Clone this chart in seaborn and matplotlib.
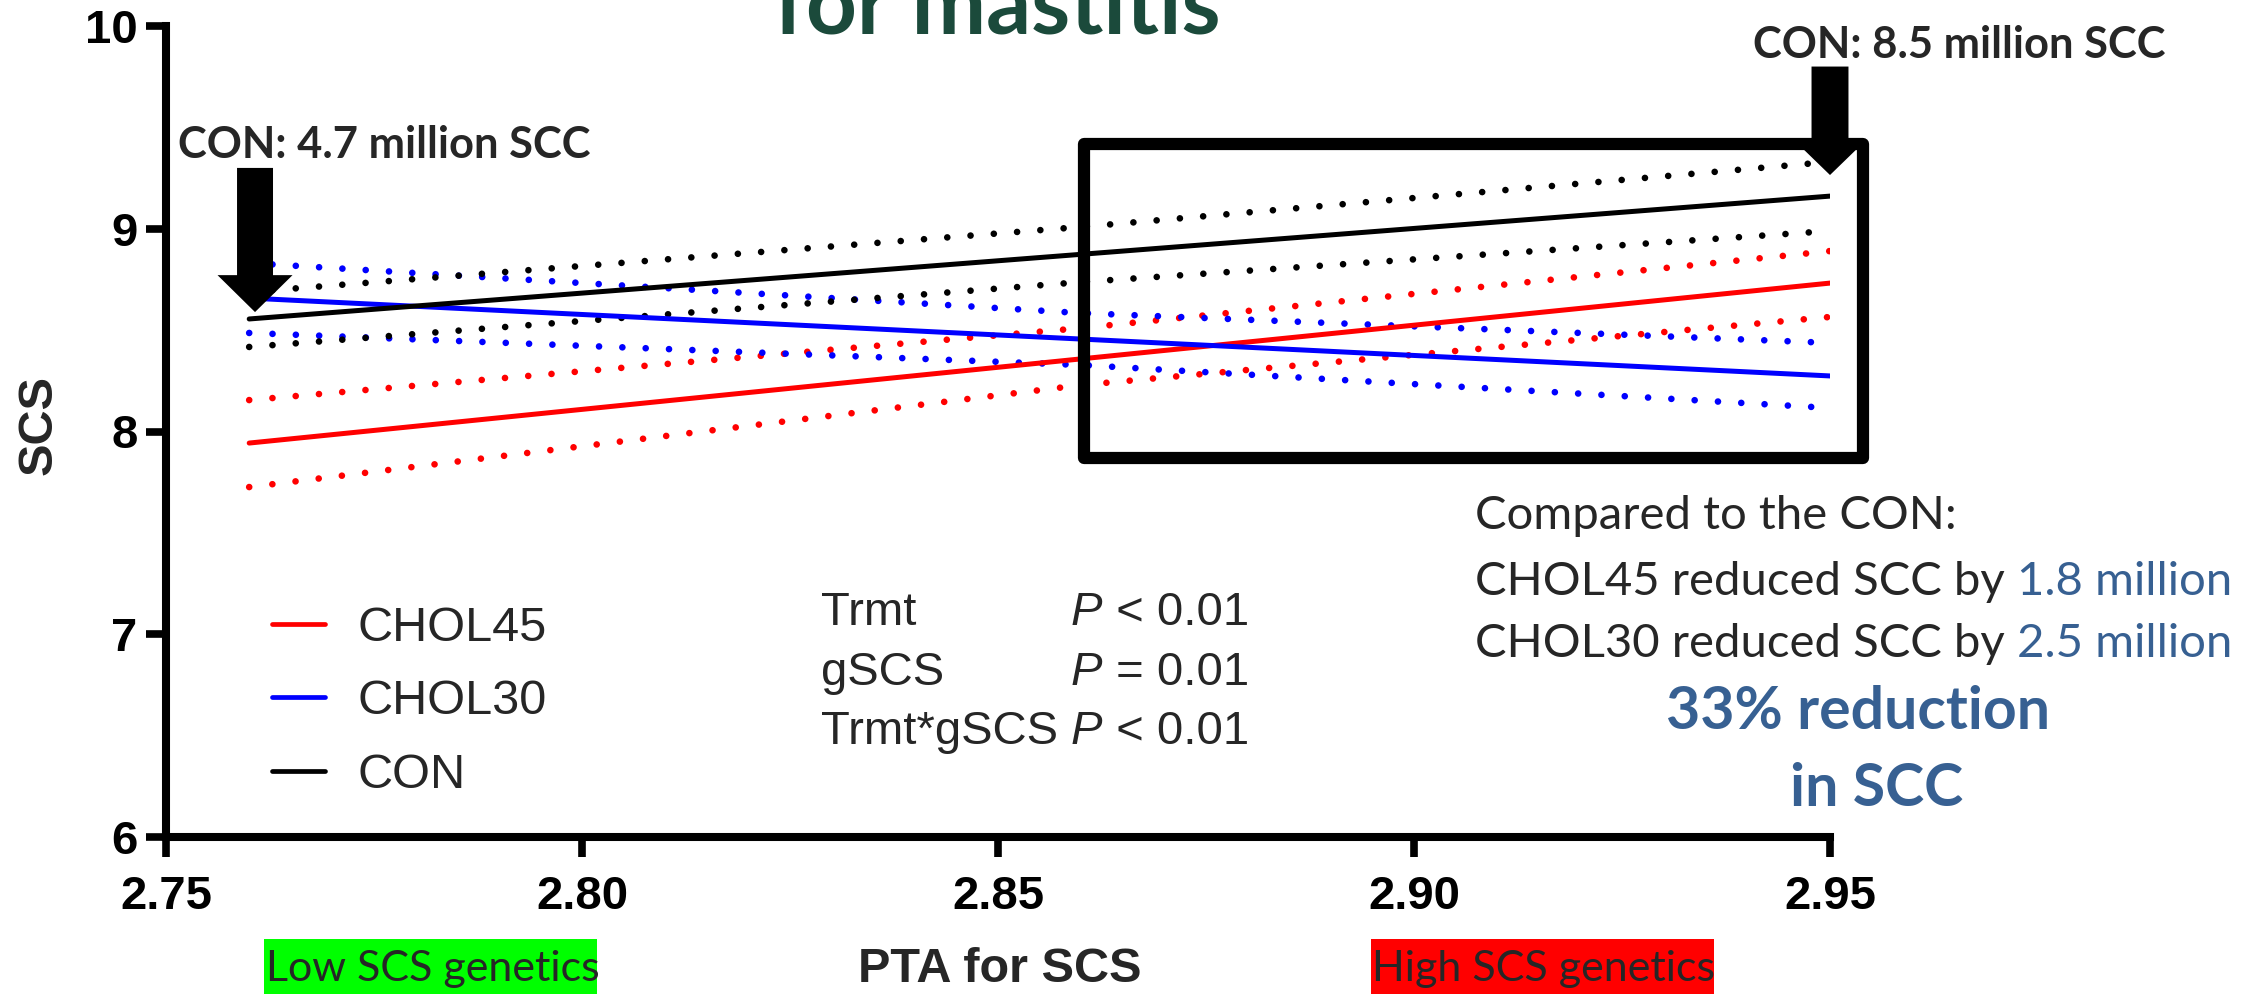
import numpy as np
import pandas as pd
import seaborn as sns
import matplotlib
matplotlib.use("Agg")
import matplotlib.pyplot as plt
from matplotlib.patches import Rectangle

# ---------------- data ----------------
treatments = ["CHOL45", "CHOL30", "CON"]
fit_x = [2.76, 2.95]
fit_chol45 = [7.943, 8.732]
fit_chol30 = [8.658, 8.274]
fit_con = [8.555, 9.161]

band_x = [2.76, 2.86, 2.95]
chol45_upper = [8.155, 8.51, 8.89]
chol45_lower = [7.726, 8.229, 8.565]
chol30_upper = [8.831, 8.584, 8.437]
chol30_lower = [8.486, 8.328, 8.116]
con_upper = [8.688, 9.009, 9.33]
con_lower = [8.417, 8.737, 8.989]

x_ticks = [2.75, 2.80, 2.85, 2.90, 2.95]
x_tick_labels = ["2.75", "2.80", "2.85", "2.90", "2.95"]
y_ticks = [6, 7, 8, 9, 10]
y_tick_labels = ["6", "7", "8", "9", "10"]

stat_terms = ["Trmt", "gSCS", "Trmt*gSCS"]
stat_values = ["< 0.01", "= 0.01", "< 0.01"]

colors = {"CHOL45": "#ff0000", "CHOL30": "#0000ff", "CON": "#000000"}
note_blue = "#376092"
title_green = "#1b4a3b"

# ---------------- tables ----------------
fits = {"CHOL45": fit_chol45, "CHOL30": fit_chol30, "CON": fit_con}
df_fit = pd.concat(
    [pd.DataFrame({"PTA": fit_x, "SCS": v, "Trmt": k}) for k, v in fits.items()],
    ignore_index=True)
bands = {("CHOL45", "upper"): chol45_upper, ("CHOL45", "lower"): chol45_lower,
         ("CHOL30", "upper"): chol30_upper, ("CHOL30", "lower"): chol30_lower,
         ("CON", "upper"): con_upper, ("CON", "lower"): con_lower}
df_band = pd.concat(
    [pd.DataFrame({"PTA": band_x, "SCS": v, "Trmt": k[0], "bound": k[1]})
     for k, v in bands.items()], ignore_index=True)

# ---------------- figure ----------------
sns.set_theme(style="ticks")
plt.rcParams["font.family"] = ["Liberation Sans", "DejaVu Sans"]
W, H = 2248, 994
fig = plt.figure(figsize=(W / 100, H / 100), dpi=100)
fig.patch.set_facecolor("white")


def fx(px):
    return px / W


def fy(py):
    return 1 - py / H


ax = fig.add_axes([fx(166), fy(837), (1830 - 166) / W, (837 - 26) / H])
ax.set_facecolor("white")

sns.lineplot(data=df_band, x="PTA", y="SCS", hue="Trmt", units="bound",
             estimator=None, hue_order=treatments, palette=colors, ax=ax,
             legend=False, lw=4.8, linestyle=(0, (0.001, 3.5)),
             dash_capstyle="round")
sns.lineplot(data=df_fit, x="PTA", y="SCS", hue="Trmt", hue_order=treatments,
             palette=colors, ax=ax, lw=3.6, legend=True)

ax.set_xlim(2.75, 2.95)
ax.set_ylim(6, 10)
ax.set_xticks(x_ticks, x_tick_labels)
ax.set_yticks(y_ticks, y_tick_labels)
sns.despine(ax=ax)
for s in ["left", "bottom"]:
    ax.spines[s].set_linewidth(5.8)
    ax.spines[s].set_color("black")
ax.tick_params(axis="both", width=5.5, length=14.4, color="black",
               labelsize=34, labelcolor="black")
ax.tick_params(axis="x", pad=13)
ax.tick_params(axis="y", pad=6)
for lbl in ax.get_xticklabels() + ax.get_yticklabels():
    lbl.set_fontweight("bold")

ax.set_xlabel("PTA for SCS", fontsize=35, fontweight="bold", va="center")
ax.xaxis.set_label_coords((1000 - 166) / 1664, (837 - 970) / 811)
ax.set_ylabel("SCS", fontsize=35, fontweight="bold", va="center")
ax.yaxis.set_label_coords((39 - 166) / 1664, (837 - 425) / 811)

# legend
handles, labels = ax.get_legend_handles_labels()
leg = ax.legend(handles, labels, loc="center left",
                bbox_to_anchor=(fx(272), fy(702)), bbox_transform=fig.transFigure,
                frameon=False, fontsize=35, handlelength=1.1, handletextpad=0.65,
                labelspacing=0.58, borderpad=0, borderaxespad=0)
for ln in leg.get_lines():
    ln.set_linewidth(3.4)

# highlight box
box_l, box_r, box_b, box_t = 2.8603, 2.954, 7.869, 9.418
ax.add_patch(Rectangle((box_l, box_b), box_r - box_l, box_t - box_b, fill=False,
                       lw=8.8, ec="black", joinstyle="round", clip_on=False,
                       zorder=5))

# arrows
ax.annotate("", xy=(2.7607, 8.589), xytext=(2.7607, 9.30),
            arrowprops=dict(arrowstyle="simple,head_length=26.6,head_width=54,tail_width=25.9",
                            mutation_scale=1, fc="black", ec="none",
                            shrinkA=0, shrinkB=0), annotation_clip=False, zorder=6)
ax.annotate("", xy=(2.95, 9.265), xytext=(2.95, 9.80),
            arrowprops=dict(arrowstyle="simple,head_length=19.4,head_width=40,tail_width=26.6",
                            mutation_scale=1, fc="black", ec="none",
                            shrinkA=0, shrinkB=0), annotation_clip=False, zorder=6)

# texts (Calibri-like)
cal = ["Lato", "DejaVu Sans"]
# title is cut off by the top edge in the reference
fig.text(fx(997), fy(33), "for mastitis", fontsize=64, fontweight="bold",
         family=cal, color=title_green, ha="center", va="baseline")
fig.text(fx(178), fy(145), "CON: 4.7 million SCC", fontsize=31.3, fontweight="bold",
         family=cal, ha="left", va="center")
fig.text(fx(1753), fy(45), "CON: 8.5 million SCC", fontsize=31.3, fontweight="bold",
         family=cal, ha="left", va="center")

# statistics block
row_y = [613, 673, 732]
for term, val, yy in zip(stat_terms, stat_values, row_y):
    fig.text(fx(821), fy(yy), term, fontsize=34, ha="left", va="center")
    fig.text(fx(1071), fy(yy), "P", fontsize=34, style="italic", ha="left", va="center")
    fig.text(fx(1103), fy(yy), " " + val, fontsize=34, ha="left", va="center")

# comparison notes
fig.canvas.draw()
rend = fig.canvas.get_renderer()
fig.text(fx(1475), fy(516), "Compared to the CON:", fontsize=34, family=cal,
         ha="left", va="center")
for lead, amt, yy in [("CHOL45 reduced SCC by ", "1.8 million", 582),
                      ("CHOL30 reduced SCC by ", "2.5 million", 644)]:
    t = fig.text(fx(1475), fy(yy), lead, fontsize=34, family=cal, ha="left", va="center")
    bb = t.get_window_extent(renderer=rend)
    fig.text(bb.x1 / W, fy(yy), amt, fontsize=34, family=cal, color=note_blue,
             ha="left", va="center")
fig.text(fx(1858), fy(712), "33% reduction", fontsize=42.5, fontweight="bold",
         family=cal, color=note_blue, ha="center", va="center")
fig.text(fx(1877), fy(789), "in SCC", fontsize=42.5, fontweight="bold",
         family=cal, color=note_blue, ha="center", va="center")

# genetics labels
fig.patches.append(Rectangle((fx(264), fy(1000)), (597 - 264) / W, (1000 - 939) / H,
                             transform=fig.transFigure, fc="#00ff00", ec="none",
                             zorder=0))
fig.patches.append(Rectangle((fx(1371), fy(1000)), (1714 - 1371) / W, (1000 - 939) / H,
                             transform=fig.transFigure, fc="#ff0000", ec="none",
                             zorder=0))
fig.text(fx(266), fy(969), "Low SCS genetics", fontsize=31, family=cal,
         ha="left", va="center")
fig.text(fx(1372), fy(969), "High SCS genetics", fontsize=31, family=cal,
         ha="left", va="center")

fig.savefig("out.png", dpi=100)
